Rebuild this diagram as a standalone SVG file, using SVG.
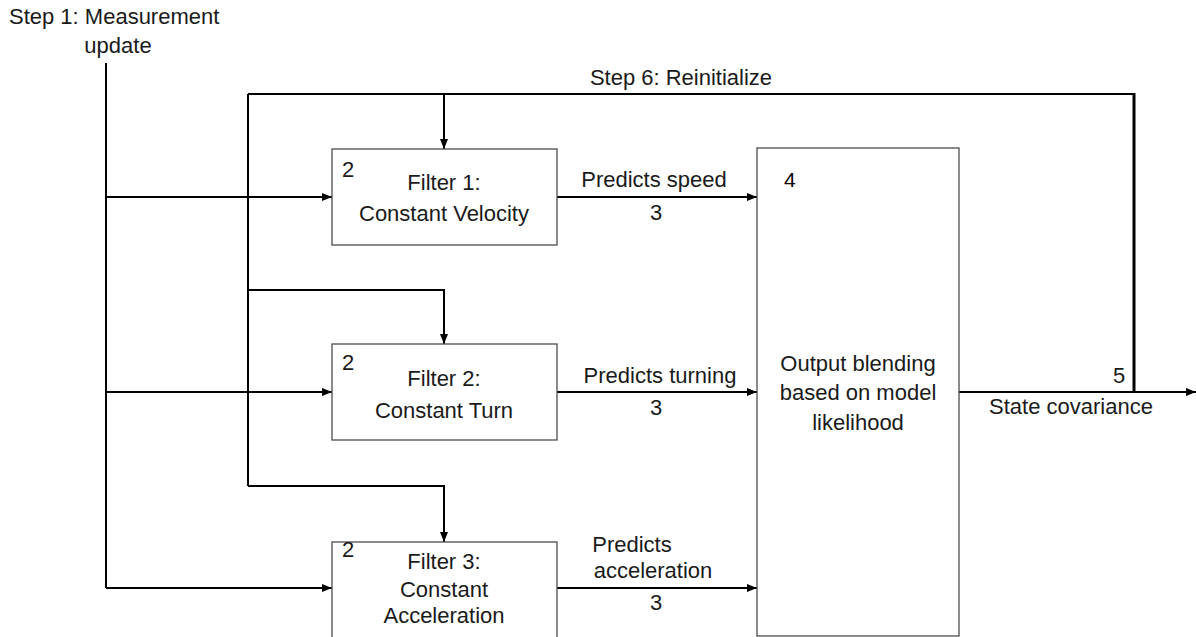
<svg xmlns="http://www.w3.org/2000/svg" width="1196" height="637" viewBox="0 0 1196 637">
  <defs>
    <marker id="arrow" markerUnits="userSpaceOnUse" markerWidth="10" markerHeight="10" viewBox="0 0 10 10" refX="10" refY="5" orient="auto">
      <path d="M0,1 L10,5 L0,9 Z" fill="#000"/>
    </marker>
    <style>
      .box { fill: #fff; stroke: #4d4d4d; stroke-width: 1.3; }
      .wire { fill: none; stroke: #000; stroke-width: 2; }
      .thick { fill: none; stroke: #000; stroke-width: 3; }
      .arr { marker-end: url(#arrow); }
      text { font-family: "Liberation Sans", Arial, sans-serif; font-size: 22px; fill: #1a1a1a; }
      .c { text-anchor: middle; }
      .num { font-size: 21px; fill: #000; }
    </style>
  </defs>

  <rect width="1196" height="637" fill="#fff"/>

  <!-- free labels -->
  <g id="labels">
    <text x="9" y="24">Step 1: Measurement</text>
    <text class="c" x="118" y="53">update</text>
    <text class="c" x="681" y="85">Step 6: Reinitialize</text>
  </g>

  <!-- connectors -->
  <g id="connectors">
    <!-- measurement trunk and feeds into each filter -->
    <path class="wire" d="M106,63 V588"/>
    <path class="wire arr" d="M106,197 H332"/>
    <path class="wire arr" d="M106,392 H332"/>
    <path class="wire arr" d="M106,588 H332"/>
    <!-- reinitialize loop -->
    <path class="wire" d="M248,94 H1134"/>
    <path class="thick" d="M1134,93 V392"/>
    <path class="wire" d="M248,94 V486"/>
    <path class="wire arr" d="M444,94 V149"/>
    <path class="wire arr" d="M248,290 H444 V344"/>
    <path class="wire arr" d="M248,486 H444 V542"/>
    <!-- filter outputs into blending -->
    <path class="wire arr" d="M557,197 H757"/>
    <path class="wire arr" d="M557,392 H757"/>
    <path class="wire arr" d="M557,588 H757"/>
    <!-- blended output -->
    <path class="wire arr" d="M959,392 H1196"/>
    <text class="c" x="654" y="187">Predicts speed</text>
    <text class="c" x="656" y="220">3</text>
    <text class="c" x="660" y="383">Predicts turning</text>
    <text class="c" x="656" y="415">3</text>
    <text class="c" x="632" y="552">Predicts</text>
    <text class="c" x="653" y="578">acceleration</text>
    <text class="c" x="656" y="610">3</text>
    <text x="1113" y="383">5</text>
    <text class="c" x="1071" y="414">State covariance</text>
  </g>

  <g id="filter1">
    <rect class="box" x="332" y="149" width="225" height="96"/>
    <text x="342" y="177">2</text>
    <text class="c" x="444" y="190">Filter 1:</text>
    <text class="c" x="444" y="221">Constant Velocity</text>
  </g>

  <g id="filter2">
    <rect class="box" x="332" y="344" width="225" height="96"/>
    <text x="342" y="370">2</text>
    <text class="c" x="444" y="386">Filter 2:</text>
    <text class="c" x="444" y="418">Constant Turn</text>
  </g>

  <g id="filter3">
    <rect class="box" x="332" y="542" width="225" height="100"/>
    <text x="342" y="557">2</text>
    <text class="c" x="444" y="569">Filter 3:</text>
    <text class="c" x="444" y="597">Constant</text>
    <text class="c" x="444" y="623">Acceleration</text>
  </g>

  <g id="blending">
    <rect class="box" x="757" y="148" width="202" height="488"/>
    <text class="num" x="784" y="187">4</text>
    <text class="c" x="858" y="371">Output blending</text>
    <text class="c" x="858" y="400">based on model</text>
    <text class="c" x="858" y="430">likelihood</text>
  </g>
</svg>
